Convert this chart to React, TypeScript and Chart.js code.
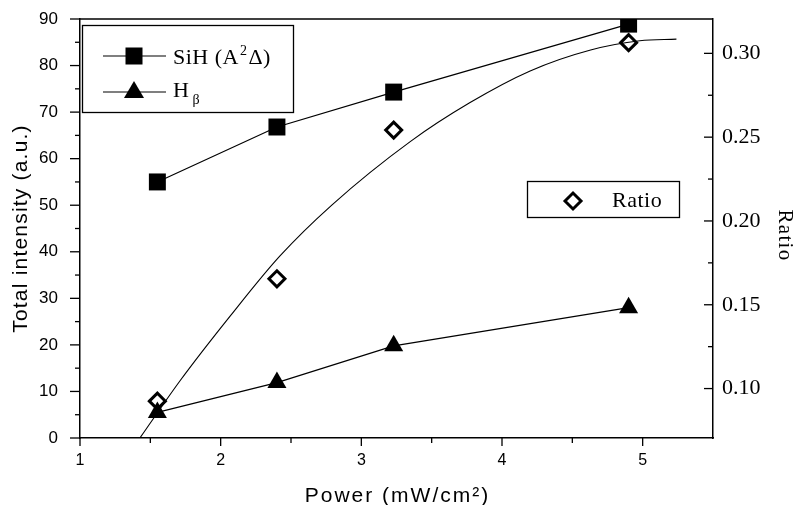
import React, { useEffect, useRef } from 'react';
import { Chart, registerables } from 'chart.js';

Chart.register(...registerables);

// ---- data ----
const powerValues = [1.55, 2.4, 3.23, 4.9];
const sihValues = [55.0, 66.8, 74.3, 88.9];
const hbetaValues = [5.5, 11.9, 19.8, 28.0];
const ratioValues = [0.0925, 0.1655, 0.2542, 0.3064];
const fitPower = [1.43, 1.71, 2.07, 2.42, 2.79, 3.35, 3.77, 4.2, 4.63, 4.98, 5.24];
const fitRatio = [0.071, 0.1045, 0.1435, 0.179, 0.2095, 0.2475, 0.2705, 0.2895, 0.302, 0.3075, 0.3085];

const xMajorTicks = [1, 2, 3, 4, 5];
const xMinorTicks = [1.5, 2.5, 3.5, 4.5];
const leftMajorTicks = [0, 10, 20, 30, 40, 50, 60, 70, 80, 90];
const leftMinorTicks = [5, 15, 25, 35, 45, 55, 65, 75, 85];
const rightMajorTicks = [0.1, 0.15, 0.2, 0.25, 0.3];
const rightMinorTicks = [0.125, 0.175, 0.225, 0.275];

const xTitle = 'Power (mW/cm\u00B2)';
const leftTitle = 'Total intensity (a.u.)';
const rightTitle = 'Ratio';

const SANS = '"Liberation Sans", Arial, sans-serif';
const SERIF = '"Liberation Serif", "Times New Roman", serif';

const toPoints = (xs: number[], ys: number[]) => xs.map((x, i) => ({ x, y: ys[i] }));

const frameTicksPlugin = {
  id: 'frameTicks',
  afterDraw(chart: any) {
    const { ctx, chartArea, scales } = chart;
    const { left, right, top, bottom } = chartArea;
    const line = (x1: number, y1: number, x2: number, y2: number) => {
      ctx.beginPath();
      ctx.moveTo(x1, y1);
      ctx.lineTo(x2, y2);
      ctx.stroke();
    };
    ctx.save();
    ctx.strokeStyle = '#000';
    ctx.lineWidth = 1.5;
    line(left, top, right, top);
    ctx.lineWidth = 1.3;
    leftMajorTicks.forEach((v) => { const p = scales.y.getPixelForValue(v); line(left - 10, p, left, p); });
    leftMinorTicks.forEach((v) => { const p = scales.y.getPixelForValue(v); line(left - 5, p, left, p); });
    xMajorTicks.forEach((v) => { const p = scales.x.getPixelForValue(v); line(p, bottom, p, bottom + 8); });
    xMinorTicks.forEach((v) => { const p = scales.x.getPixelForValue(v); line(p, bottom, p, bottom + 5); });
    rightMajorTicks.forEach((v) => { const p = scales.y1.getPixelForValue(v); line(right - 9, p, right, p); });
    rightMinorTicks.forEach((v) => { const p = scales.y1.getPixelForValue(v); line(right - 5, p, right, p); });
    ctx.restore();
  },
};

const titlesPlugin = {
  id: 'axisTitles',
  afterDraw(chart: any) {
    const { ctx, chartArea } = chart;
    const { left, right, top, bottom } = chartArea;
    ctx.save();
    ctx.fillStyle = '#000';
    ctx.textAlign = 'center';

    ctx.font = '21px ' + SANS;
    (ctx as any).letterSpacing = '2px';
    ctx.textBaseline = 'alphabetic';
    ctx.fillText(xTitle, (left + right) / 2 + 1, bottom + 64);

    ctx.save();
    (ctx as any).letterSpacing = '1.2px';
    ctx.textBaseline = 'middle';
    ctx.translate(left - 59, (top + bottom) / 2);
    ctx.rotate(-Math.PI / 2);
    ctx.fillText(leftTitle, 0, 0);
    ctx.restore();

    ctx.save();
    ctx.font = '21px ' + SERIF;
    (ctx as any).letterSpacing = '1.3px';
    ctx.textBaseline = 'middle';
    ctx.translate(right + 72, (top + bottom) / 2 + 7);
    ctx.rotate(Math.PI / 2);
    ctx.fillText(rightTitle, 0, 0);
    ctx.restore();

    ctx.restore();
  },
};

const legendPlugin = {
  id: 'customLegends',
  afterDraw(chart: any) {
    const { ctx, chartArea } = chart;
    const { left, top, right } = chartArea;
    ctx.save();
    ctx.strokeStyle = '#000';
    ctx.fillStyle = '#000';
    ctx.lineWidth = 1.3;

    // Box 1: SiH and H-beta
    const bx = left + 2, by = top + 6, bw = 211, bh = 87;
    ctx.fillStyle = '#fff';
    ctx.fillRect(bx, by, bw, bh);
    ctx.strokeRect(bx + 0.5, by + 0.5, bw, bh);
    ctx.fillStyle = '#000';

    const lx1 = bx + 21, lx2 = bx + 84, mx = bx + 52;
    const r1y = by + 31, r2y = by + 67;
    ctx.lineWidth = 1.2;
    ctx.beginPath(); ctx.moveTo(lx1, r1y); ctx.lineTo(lx2, r1y); ctx.stroke();
    ctx.fillRect(mx - 8.5, r1y - 8.5, 17, 17);
    ctx.beginPath(); ctx.moveTo(lx1, r2y); ctx.lineTo(lx2, r2y); ctx.stroke();
    ctx.beginPath();
    ctx.moveTo(mx, r2y - 11);
    ctx.lineTo(mx + 10, r2y + 6);
    ctx.lineTo(mx - 10, r2y + 6);
    ctx.closePath();
    ctx.fill();

    ctx.textBaseline = 'alphabetic';
    ctx.textAlign = 'left';
    (ctx as any).letterSpacing = '0.5px';
    let tx = bx + 91;
    const big = '22px ' + SERIF;
    const small = '14px ' + SERIF;
    ctx.font = big;
    ctx.fillText('SiH (A', tx, r1y + 8);
    tx += ctx.measureText('SiH (A').width + 1;
    ctx.font = small;
    ctx.fillText('2', tx, r1y - 1);
    tx += ctx.measureText('2').width + 1;
    ctx.font = big;
    ctx.fillText('\u0394)', tx, r1y + 8);

    tx = bx + 91;
    ctx.font = big;
    ctx.fillText('H', tx, r2y + 5);
    tx += ctx.measureText('H').width + 3;
    ctx.font = small;
    ctx.fillText('\u03B2', tx, r2y + 12);

    // Box 2: Ratio
    const b2x = right - 186, b2y = top + 162, b2w = 152, b2h = 36;
    ctx.fillStyle = '#fff';
    ctx.fillRect(b2x, b2y, b2w, b2h);
    ctx.lineWidth = 1.3;
    ctx.strokeRect(b2x + 0.5, b2y + 0.5, b2w, b2h);
    const dx = b2x + 46, dy = b2y + 20;
    ctx.lineWidth = 3;
    ctx.beginPath();
    ctx.moveTo(dx - 8, dy); ctx.lineTo(dx, dy - 8); ctx.lineTo(dx + 8, dy); ctx.lineTo(dx, dy + 8);
    ctx.closePath();
    ctx.fill();
    ctx.stroke();
    ctx.fillStyle = '#000';
    ctx.font = big;
    ctx.fillText('Ratio', b2x + 85, b2y + 26);
    ctx.restore();
  },
};

const noPadV = (s: any) => { s.paddingTop = 0; s.paddingBottom = 0; };
const noPadH = (s: any) => { s.paddingLeft = 0; s.paddingRight = 0; };

export default function App() {
  const canvasRef = useRef<HTMLCanvasElement | null>(null);

  useEffect(() => {
    const canvas = canvasRef.current;
    if (!canvas) return;
    Chart.defaults.font.family = SANS;
    Chart.defaults.color = '#000';

    const chart = new Chart(canvas, {
      type: 'scatter',
      data: {
        datasets: [
          {
            label: 'Ratio fit',
            data: toPoints(fitPower, fitRatio),
            yAxisID: 'y1',
            showLine: true,
            borderColor: '#000',
            borderWidth: 1.1,
            pointRadius: 0,
            cubicInterpolationMode: 'monotone',
          },
          {
            label: 'SiH (A\u00B2\u0394)',
            data: toPoints(powerValues, sihValues),
            yAxisID: 'y',
            showLine: true,
            borderColor: '#000',
            backgroundColor: '#000',
            borderWidth: 1.2,
            pointStyle: 'rect',
            pointRadius: 12,
            pointBorderWidth: 0,
          },
          {
            label: 'H\u03B2',
            data: toPoints(powerValues, hbetaValues),
            yAxisID: 'y',
            showLine: true,
            borderColor: '#000',
            backgroundColor: '#000',
            borderWidth: 1.2,
            pointStyle: 'triangle',
            pointRadius: 11,
            pointBorderWidth: 0,
          },
          {
            label: 'Ratio',
            data: toPoints(powerValues, ratioValues),
            yAxisID: 'y1',
            showLine: false,
            borderColor: '#000',
            backgroundColor: '#fff',
            pointStyle: 'rectRot',
            pointRadius: 8,
            pointBorderWidth: 3,
          },
        ],
      },
      options: {
        animation: false,
        responsive: false,
        maintainAspectRatio: false,
        layout: { padding: { top: 19, left: 0, right: 0, bottom: 0 } },
        plugins: { legend: { display: false }, tooltip: { enabled: false } },
        scales: {
          x: {
            type: 'linear',
            position: 'bottom',
            min: 1,
            max: 5.5,
            afterBuildTicks: (s: any) => { s.ticks = xMajorTicks.map((v) => ({ value: v })); },
            afterFit: (s: any) => { s.height = 67; noPadH(s); },
            grid: { drawOnChartArea: false, drawTicks: false },
            border: { display: true, color: '#000', width: 1.5 },
            ticks: { padding: 13, font: { size: 16, family: SANS }, color: '#000', callback: (v: any) => String(v) },
            title: { display: false },
          },
          y: {
            type: 'linear',
            position: 'left',
            min: 0,
            max: 90,
            afterBuildTicks: (s: any) => { s.ticks = leftMajorTicks.map((v) => ({ value: v })); },
            afterFit: (s: any) => { s.width = 80; noPadV(s); },
            grid: { drawOnChartArea: false, drawTicks: false },
            border: { display: true, color: '#000', width: 1.5 },
            ticks: { padding: 22, font: { size: 17, family: SANS }, color: '#000', callback: (v: any) => String(v) },
            title: { display: false },
          },
          y1: {
            type: 'linear',
            position: 'right',
            min: 0.0705,
            max: 0.3205,
            afterBuildTicks: (s: any) => { s.ticks = rightMajorTicks.map((v) => ({ value: v })); },
            afterFit: (s: any) => { s.width = 87; noPadV(s); },
            grid: { drawOnChartArea: false, drawTicks: false },
            border: { display: true, color: '#000', width: 1.5 },
            ticks: { padding: 9, font: { size: 22, family: SERIF }, color: '#000', callback: (v: any) => Number(v).toFixed(2) },
            title: { display: false },
          },
        },
      },
      plugins: [frameTicksPlugin, titlesPlugin, legendPlugin],
    } as any);

    return () => chart.destroy();
  }, []);

  return (
    <div style={{ position: 'absolute', left: 0, top: 0, width: 800, height: 505, background: '#fff' }}>
      <canvas ref={canvasRef} width={800} height={505} style={{ display: 'block' }} />
    </div>
  );
}
